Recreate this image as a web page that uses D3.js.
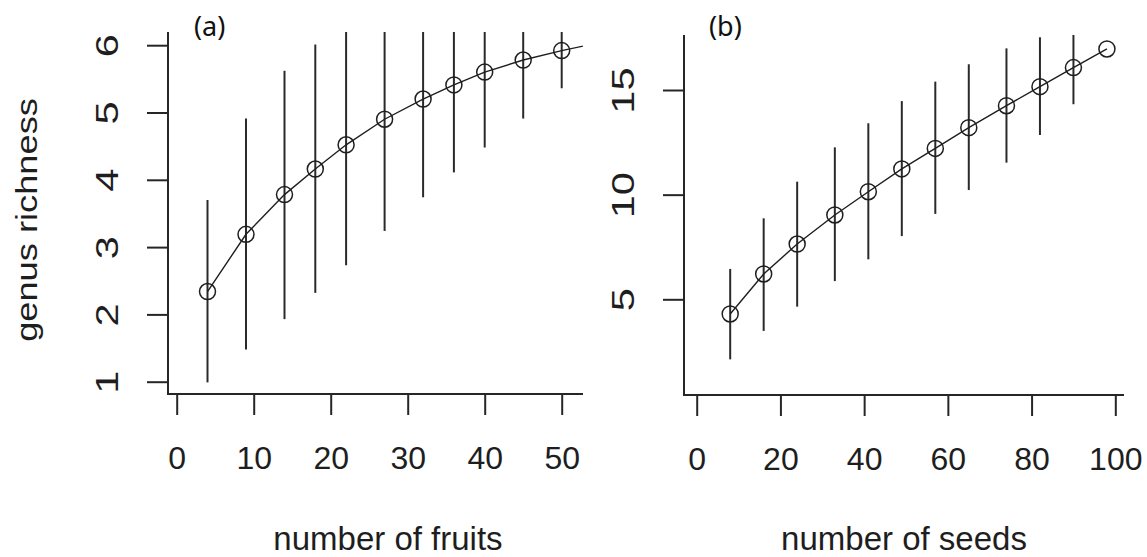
<!DOCTYPE html>
<html lang="en">
  <head>
    <meta charset="UTF-8" />
    <title>genus richness rarefaction</title>
    <script src="https://cdn.jsdelivr.net/npm/d3@7"></script>
    <style>
      body { margin: 0; background: #fff; }
      svg { display: block; font-family: "Liberation Sans", Arial, sans-serif; }
    </style>
  </head>

  <body>
    <div id="chart"></div>
    <script>
      const width = 1147;
      const height = 557;

      // (a) fruits
      const fruitN = [4, 9, 14, 18, 22, 27, 32, 36, 40, 45, 50, 55];
      const fruitMean = [2.34, 3.19, 3.78, 4.16, 4.52, 4.9, 5.2, 5.41, 5.6, 5.78, 5.92, 6.04];
      const fruitLo = [0.99, 1.48, 1.93, 2.32, 2.73, 3.24, 3.74, 4.11, 4.48, 4.91, 5.36, 5.7];
      const fruitHi = [3.7, 4.91, 5.62, 6.01, 6.31, 6.56, 6.66, 6.71, 6.72, 6.65, 6.48, 6.4];
      const fruitXTicks = [0, 10, 20, 30, 40, 50];
      const fruitYTicks = [1, 2, 3, 4, 5, 6];

      // (b) seeds
      const seedN = [8, 16, 24, 33, 41, 49, 57, 65, 74, 82, 90, 98];
      const seedMean = [4.3, 6.21, 7.64, 9.03, 10.14, 11.23, 12.21, 13.2, 14.25, 15.16, 16.07, 16.96];
      const seedLo = [2.13, 3.49, 4.65, 5.87, 6.91, 8.02, 9.08, 10.22, 11.53, 12.85, 14.32, 16.96];
      const seedHi = [6.45, 8.87, 10.62, 12.26, 13.41, 14.47, 15.4, 16.23, 16.99, 17.52, 17.85, 16.96];
      const seedXTicks = [0, 20, 40, 60, 80, 100];
      const seedYTicks = [5, 10, 15];

      const svg = d3.select("#chart")
        .append("svg")
        .attr("width", width)
        .attr("height", height);

      const ink = "#1e1e1e";

      function panel(o) {
        const { id, frame, x, y, n, mean, lo, hi, xTicks, yTicks, tag, xTitle } = o;
        const g = svg.append("g");

        // clip to the plot region
        svg.append("clipPath").attr("id", id)
          .append("rect")
          .attr("x", frame.left).attr("y", frame.top)
          .attr("width", frame.right - frame.left)
          .attr("height", frame.bottom - frame.top);

        const plot = g.append("g").attr("clip-path", `url(#${id})`);
        const pts = n.map((d, i) => ({ n: d, m: mean[i], lo: lo[i], hi: hi[i] }));

        // error bars
        plot.selectAll("line.err")
          .data(pts)
          .enter()
          .append("line")
          .attr("x1", d => x(d.n)).attr("x2", d => x(d.n))
          .attr("y1", d => y(d.lo)).attr("y2", d => y(d.hi))
          .attr("stroke", "#2a2a2a")
          .attr("stroke-width", 2);

        // curve
        plot.append("path")
          .datum(pts)
          .attr("fill", "none")
          .attr("stroke", ink)
          .attr("stroke-width", 1.4)
          .attr("d", d3.line().x(d => x(d.n)).y(d => y(d.m)));

        plot.selectAll("circle")
          .data(pts)
          .enter()
          .append("circle")
          .attr("cx", d => x(d.n)).attr("cy", d => y(d.m))
          .attr("r", 8)
          .attr("fill", "none")
          .attr("stroke", ink)
          .attr("stroke-width", 1.5);

        // L-shaped box
        g.append("path")
          .attr("fill", "none")
          .attr("stroke", "#262626")
          .attr("stroke-width", 2)
          .attr("d", `M${frame.left},${frame.top}V${frame.bottom}H${frame.right}`);

        // x axis (ticks hang below the box)
        const xa = g.append("g")
          .attr("transform", `translate(0,${frame.bottom})`)
          .call(d3.axisBottom(x).tickValues(xTicks).tickSize(21).tickSizeOuter(0).tickPadding(31));
        xa.select(".domain").remove();
        xa.selectAll("line").attr("stroke", "#262626").attr("stroke-width", 2);
        xa.selectAll("text")
          .attr("fill", ink)
          .attr("font-size", 32)
          .attr("font-family", "Liberation Sans, Arial, sans-serif");

        // y axis, labels turned to read upwards
        const ya = g.append("g")
          .attr("transform", `translate(${frame.left},0)`)
          .call(d3.axisLeft(y).tickValues(yTicks).tickFormat(d3.format("d")).tickSize(21).tickSizeOuter(0));
        ya.select(".domain").remove();
        ya.selectAll("line").attr("stroke", "#262626").attr("stroke-width", 2);
        ya.selectAll("text")
          .attr("fill", ink)
          .attr("font-size", 32)
          .attr("font-family", "Liberation Sans, Arial, sans-serif")
          .attr("text-anchor", "middle")
          .attr("dy", null)
          .attr("x", null)
          .attr("y", 0)
          .attr("transform", "translate(-50,0) rotate(-90) scale(1.3,1)");

        // panel tag
        g.append("text")
          .attr("x", tag.x).attr("y", tag.y)
          .attr("font-family", "Noto Sans, Open Sans, sans-serif")
          .attr("font-size", 27)
          .attr("fill", "#111")
          .text(tag.text);

        // x title
        g.append("text")
          .attr("x", xTitle.x).attr("y", 550)
          .attr("text-anchor", "middle")
          .attr("font-size", 33)
          .attr("fill", ink)
          .text(xTitle.text);
        return g;
      }

      const xL = d3.scaleLinear().domain([0, 50]).range([176.7, 561.7]);
      const yL = d3.scaleLinear().domain([1, 6]).range([381.7, 45.2]);
      panel({
        id: "clipA",
        frame: { left: 168, right: 583, top: 32, bottom: 394 },
        x: xL, y: yL,
        n: fruitN, mean: fruitMean, lo: fruitLo, hi: fruitHi,
        xTicks: fruitXTicks, yTicks: fruitYTicks,
        tag: { x: 194, y: 36, text: "(a)" },
        xTitle: { x: 388, text: "number of fruits" }
      });

      const xR = d3.scaleLinear().domain([0, 100]).range([696.7, 1115.3]);
      const yR = d3.scaleLinear().domain([5, 15]).range([299.3, 90]);
      panel({
        id: "clipB",
        frame: { left: 684, right: 1124, top: 35, bottom: 395 },
        x: xR, y: yR,
        n: seedN, mean: seedMean, lo: seedLo, hi: seedHi,
        xTicks: seedXTicks, yTicks: seedYTicks,
        tag: { x: 709, y: 36, text: "(b)" },
        xTitle: { x: 904, text: "number of seeds" }
      });

      // shared y title
      svg.append("text")
        .attr("transform", "translate(37,220) rotate(-90) scale(1.25,1)")
        .attr("text-anchor", "middle")
        .attr("font-size", 29)
        .attr("fill", ink)
        .text("genus richness");
    </script>
  </body>
</html>
